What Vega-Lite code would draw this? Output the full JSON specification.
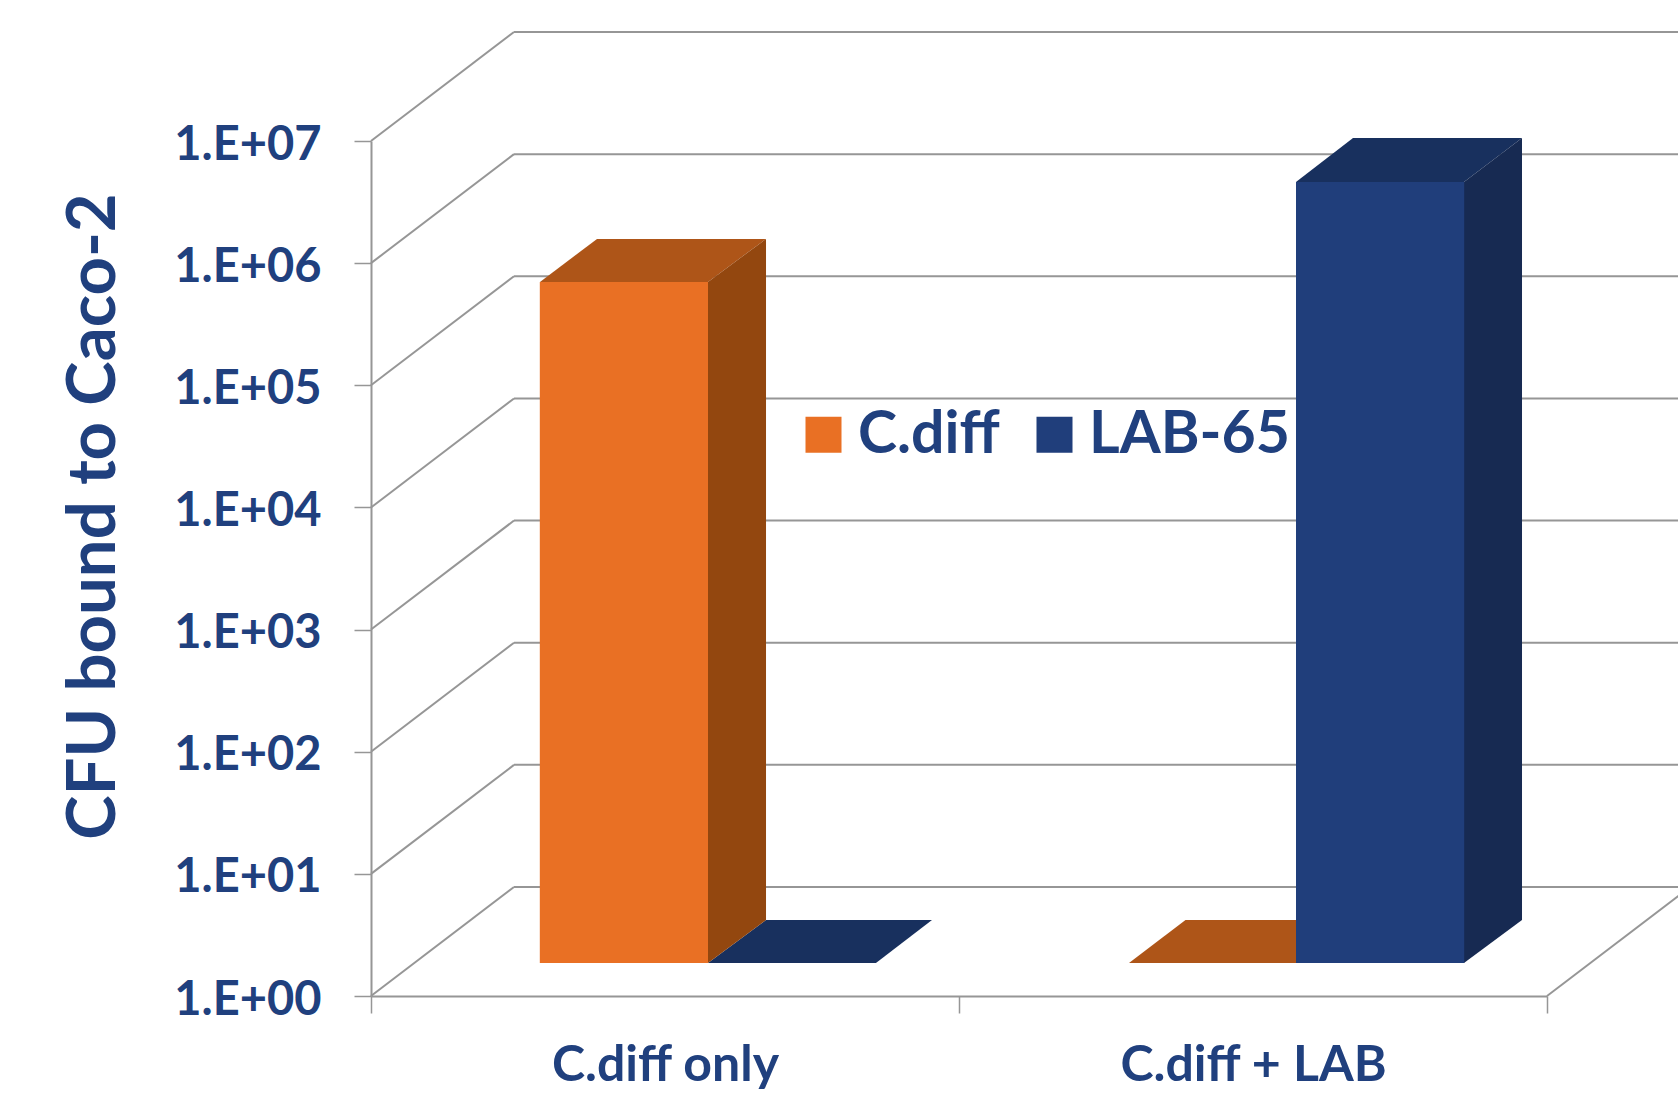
{
  "$schema": "https://vega.github.io/schema/vega-lite/v6.json",
  "autosize": {"type": "none"},
  "padding": {"left": 371, "top": 141, "right": 131, "bottom": 104},
  "width": 1176,
  "height": 855,
  "background": "white",
  "config": {"view": {"stroke": null}, "font": "Lato"},
  "datasets": {
    "levels": [
      {"cfu": 1}, {"cfu": 10}, {"cfu": 100}, {"cfu": 1000},
      {"cfu": 10000}, {"cfu": 100000}, {"cfu": 1000000}, {"cfu": 10000000}
    ],
    "bars": [
      {"sample": "C.diff only", "series": "C.diff", "cfu": 377000},
      {"sample": "C.diff only", "series": "LAB-65", "cfu": 1},
      {"sample": "C.diff + LAB", "series": "C.diff", "cfu": 1},
      {"sample": "C.diff + LAB", "series": "LAB-65", "cfu": 2480000}
    ],
    "sideFaces": [
      {"sample": "C.diff only", "series": "C.diff", "pos": 0.5731, "low": 1.86, "high": 701000},
      {"sample": "C.diff only", "series": "C.diff", "pos": 0.6718, "low": 4.19, "high": 1580000},
      {"sample": "C.diff + LAB", "series": "LAB-65", "pos": 1.8588, "low": 1.86, "high": 4620000},
      {"sample": "C.diff + LAB", "series": "LAB-65", "pos": 1.9575, "low": 4.19, "high": 10600000}
    ],
    "topFaces": [
      {"sample": "C.diff only", "series": "LAB-65", "level": 1.86, "left": 0.5731, "right": 0.8588},
      {"sample": "C.diff only", "series": "LAB-65", "level": 4.19, "left": 0.6718, "right": 0.9541},
      {"sample": "C.diff + LAB", "series": "C.diff", "level": 1.86, "left": 1.2891, "right": 1.5731},
      {"sample": "C.diff + LAB", "series": "C.diff", "level": 4.19, "left": 1.3852, "right": 1.6701},
      {"sample": "C.diff only", "series": "C.diff", "level": 701000, "left": 0.2874, "right": 0.5731},
      {"sample": "C.diff only", "series": "C.diff", "level": 1580000, "left": 0.3844, "right": 0.6718},
      {"sample": "C.diff + LAB", "series": "LAB-65", "level": 4620000, "left": 1.5731, "right": 1.8588},
      {"sample": "C.diff + LAB", "series": "LAB-65", "level": 10600000, "left": 1.6701, "right": 1.9575}
    ]
  },
  "layer": [
    {
      "description": "Category and CFU axes on the front plane",
      "data": {"name": "bars"},
      "mark": {"type": "tick", "opacity": 0},
      "encoding": {
        "x": {
          "field": "sample",
          "type": "nominal",
          "sort": ["C.diff only", "C.diff + LAB"],
          "scale": {"paddingInner": 0, "paddingOuter": 0},
          "axis": {
            "title": null,
            "labelAngle": 0,
            "labelLimit": 0,
            "tickBand": "extent",
            "tickSize": 17,
            "tickColor": "#969696",
            "tickWidth": 1.5,
            "domainColor": "#969696",
            "domainWidth": 2,
            "labelFont": "Lato",
            "labelFontWeight": "bold",
            "labelFontSize": 50,
            "labelColor": "#20407E",
            "labelPadding": 27
          }
        },
        "y": {
          "field": "cfu",
          "type": "quantitative",
          "scale": {"type": "log", "domain": [1, 10000000]},
          "axis": {
            "title": "CFU bound to Caco-2",
            "titleFont": "Lato",
            "titleFontWeight": "bold",
            "titleFontSize": 67,
            "titleColor": "#20407E",
            "titleAngle": -90,
            "titleX": -277,
            "titleY": 375,
            "titleAlign": "center",
            "titleBaseline": "middle",
            "titleLimit": 0,
            "values": [1, 10, 100, 1000, 10000, 100000, 1000000, 10000000],
            "labelExpr": "'1.E+0' + round(log(datum.value) / LN10)",
            "labelLimit": 0,
            "labelOffset": 4,
            "grid": false,
            "tickSize": 17,
            "tickColor": "#969696",
            "tickWidth": 1.5,
            "domainColor": "#969696",
            "domainWidth": 2,
            "labelFont": "Lato",
            "labelFontWeight": "bold",
            "labelFontSize": 47,
            "labelColor": "#20407E",
            "labelPadding": 33
          }
        }
      }
    },
    {
      "description": "Gridlines along the back wall",
      "data": {"name": "levels"},
      "mark": {"type": "rule", "color": "#969696", "strokeWidth": 2, "xOffset": 143, "yOffset": -109, "y2Offset": -109},
      "encoding": {
        "x": {"datum": 0, "type": "quantitative", "scale": {"domain": [0, 2]}, "axis": null},
        "x2": {"datum": 3},
        "y": {"field": "cfu", "type": "quantitative", "scale": {"type": "log", "domain": [1, 10000000]}, "axis": null},
        "y2": {"field": "cfu"}
      }
    },
    {
      "description": "Gridlines receding along the side wall",
      "data": {"name": "levels"},
      "mark": {"type": "rule", "color": "#969696", "strokeWidth": 2, "x2Offset": 143, "y2Offset": -109},
      "encoding": {
        "x": {"datum": 0, "type": "quantitative", "scale": {"domain": [0, 2]}, "axis": null},
        "x2": {"datum": 0},
        "y": {"field": "cfu", "type": "quantitative", "scale": {"type": "log", "domain": [1, 10000000]}, "axis": null},
        "y2": {"field": "cfu"}
      }
    },
    {
      "description": "Right-hand floor edge",
      "data": {"values": [{"cfu": 1}]},
      "mark": {"type": "rule", "color": "#969696", "strokeWidth": 2, "x2Offset": 143, "y2Offset": -109},
      "encoding": {
        "x": {"datum": 2, "type": "quantitative", "scale": {"domain": [0, 2]}, "axis": null},
        "x2": {"datum": 2},
        "y": {"field": "cfu", "type": "quantitative", "scale": {"type": "log", "domain": [1, 10000000]}, "axis": null},
        "y2": {"field": "cfu"}
      }
    },
    {
      "description": "Top faces of the bars",
      "data": {"name": "topFaces"},
      "mark": {"type": "area", "orientation": "horizontal"},
      "encoding": {
        "y": {"field": "level", "type": "quantitative", "scale": {"type": "log", "domain": [1, 10000000]}, "axis": null},
        "x": {"field": "left", "type": "quantitative", "scale": {"domain": [0, 2]}, "axis": null},
        "x2": {"field": "right"},
        "detail": {"field": "sample"},
        "color": {"field": "series", "type": "nominal", "legend": null, "scale": {"domain": ["C.diff", "LAB-65"], "range": ["#AE5518", "#18305E"]}}
      }
    },
    {
      "description": "Right-hand faces of the bars",
      "data": {"name": "sideFaces"},
      "mark": {"type": "area", "orientation": "vertical"},
      "encoding": {
        "x": {"field": "pos", "type": "quantitative", "scale": {"domain": [0, 2]}, "axis": null},
        "y": {"field": "low", "type": "quantitative", "scale": {"type": "log", "domain": [1, 10000000]}, "axis": null},
        "y2": {"field": "high"},
        "detail": {"field": "sample"},
        "color": {"field": "series", "type": "nominal", "legend": null, "scale": {"domain": ["C.diff", "LAB-65"], "range": ["#93470F", "#172A52"]}}
      }
    },
    {
      "description": "Front faces of the bars on a plane set forward of the back wall",
      "data": {"name": "bars"},
      "mark": {"type": "bar"},
      "encoding": {
        "x": {
          "field": "sample",
          "type": "nominal",
          "sort": ["C.diff only", "C.diff + LAB"],
          "scale": {"paddingInner": 0, "paddingOuter": 0, "range": [43, 1219]},
          "axis": null
        },
        "xOffset": {
          "field": "series",
          "type": "nominal",
          "sort": ["C.diff", "LAB-65"],
          "scale": {"paddingInner": 0, "paddingOuter": 0.748}
        },
        "y": {
          "field": "cfu",
          "type": "quantitative",
          "stack": null,
          "scale": {"type": "log", "domain": [1, 10000000], "range": [822, -33]},
          "axis": null
        },
        "y2": {"datum": 1},
        "color": {
          "field": "series",
          "type": "nominal",
          "scale": {"domain": ["C.diff", "LAB-65"], "range": ["#E97024", "#203E7B"]},
          "legend": {
            "title": null,
            "orient": "none",
            "direction": "horizontal",
            "columns": 2,
            "legendX": 423,
            "legendY": 264,
            "padding": 0,
            "symbolType": "square",
            "symbolSize": 1296,
            "symbolStrokeWidth": 0,
            "labelFont": "Lato",
            "labelFontWeight": "bold",
            "labelFontSize": 59,
            "labelColor": "#20407E",
            "labelOffset": 5,
            "labelLimit": 0,
            "columnPadding": 25
          }
        }
      }
    }
  ],
  "resolve": {
    "scale": {"x": "independent", "y": "independent", "color": "independent"},
    "axis": {"x": "independent", "y": "independent"}
  }
}
